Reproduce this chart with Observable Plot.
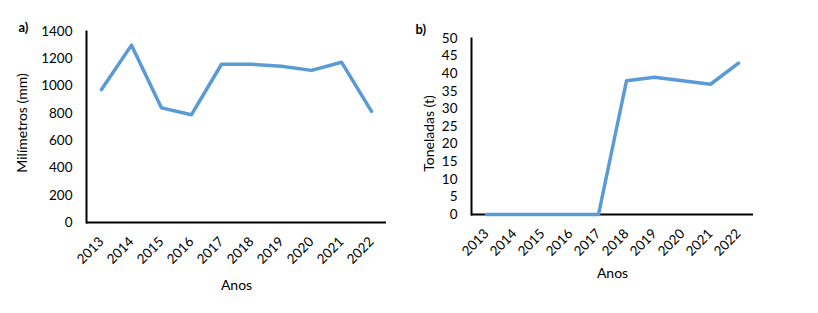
<!DOCTYPE html>
<html>
<head>
<meta charset="utf-8">
<script src="https://cdn.jsdelivr.net/npm/d3@7"></script>
<script src="https://cdn.jsdelivr.net/npm/@observablehq/plot@0.6"></script>
<style>
  html, body { margin: 0; padding: 0; background: #fff; }
  #wrap { display: flex; width: 818px; height: 313px; }
  #wrap > div { flex: none; }
</style>
</head>
<body>
<div id="wrap"><div id="a"></div><div id="b"></div></div>
<script>
const years = ["2013", "2014", "2015", "2016", "2017", "2018", "2019", "2020", "2021", "2022"];
const rainfallMm = [975, 1300, 840, 790, 1160, 1160, 1145, 1115, 1175, 815];
const tonnes = [0, 0, 0, 0, 0, 38, 39, 38, 37, 43];
const yTicksA = [0, 200, 400, 600, 800, 1000, 1200, 1400];
const yTicksB = [0, 5, 10, 15, 20, 25, 30, 35, 40, 45, 50];

const dataA = years.map((y, i) => ({year: y, value: rainfallMm[i]}));
const dataB = years.map((y, i) => ({year: y, value: tonnes[i]}));

const font = "Lato, 'Open Sans', sans-serif";
const blue = "#5B9BD5";

function panel({data, width, mL, mR, mT, mB, yDomain, yTicks, yLabel, yLabelDx, yLabelDy, xLabelDy, xPad, tag, tagDx, tagDy}) {
  return Plot.plot({
    width, height: 313,
    marginLeft: mL, marginRight: mR, marginTop: mT, marginBottom: mB,
    style: {fontFamily: font, fontSize: "13.5px", color: "#000", background: "#fff", overflow: "visible"},
    x: {type: "point", domain: years, padding: 0.5},
    y: {domain: yDomain},
    marks: [
      Plot.axisY({ticks: yTicks, tickFormat: (d) => String(d), tickSize: 0, tickPadding: 14, label: null, fontSize: 13.5}),
      Plot.axisX({tickSize: 0, tickRotate: -45, tickPadding: xPad, label: null, fontSize: 13.5}),
      Plot.frame({anchor: "left", stroke: "#000", strokeWidth: 2}),
      Plot.ruleY([0], {stroke: "#000", strokeWidth: 2}),
      Plot.line(data, {x: "year", y: "value", stroke: blue, strokeWidth: 3.5}),
      Plot.text([yLabel], {frameAnchor: "left", rotate: -90, textAnchor: "middle", lineAnchor: "middle", dx: yLabelDx, dy: yLabelDy, fontSize: 14}),
      Plot.text(["Anos"], {frameAnchor: "bottom", textAnchor: "middle", lineAnchor: "middle", dy: xLabelDy, fontSize: 14}),
      Plot.text([tag], {frameAnchor: "top-left", textAnchor: "start", lineAnchor: "middle", dx: tagDx, dy: tagDy, fontWeight: "bold", fontSize: 13})
    ]
  });
}

document.getElementById("a").append(panel({
  data: dataA, width: 400, mL: 86, mR: 14, mT: 31, mB: 91,
  yDomain: [0, 1400], yTicks: yTicksA, yLabel: "Milímetros (mm)", yLabelDx: -64, yLabelDy: -4,
  xLabelDy: 63, xPad: 17, tag: "a)", tagDx: -68, tagDy: -4
}));
document.getElementById("b").append(panel({
  data: dataB, width: 418, mL: 71, mR: 65, mT: 38, mB: 99,
  yDomain: [0, 50], yTicks: yTicksB, yLabel: "Toneladas (t)", yLabelDx: -42, yLabelDy: 7,
  xLabelDy: 59, xPad: 17, tag: "b)", tagDx: -56, tagDy: -9
}));
</script>
</body>
</html>
